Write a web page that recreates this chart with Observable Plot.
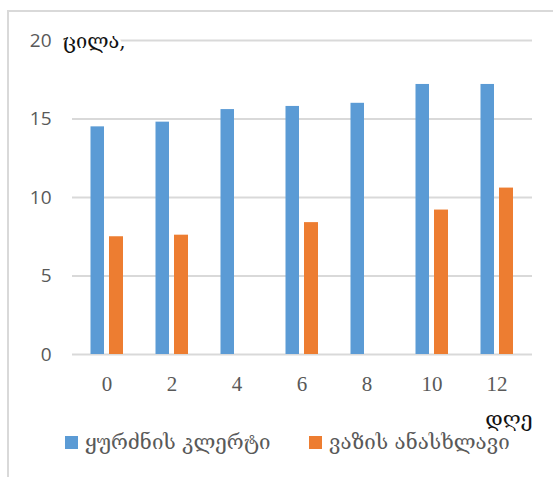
<!DOCTYPE html>
<html><head><meta charset="utf-8">
<script src="https://cdn.jsdelivr.net/npm/d3@7"></script>
<script src="https://cdn.jsdelivr.net/npm/@observablehq/plot@0.6"></script>
<style>
body{margin:0;background:#fff;}
#wrap{position:relative;width:553px;height:477px;overflow:hidden;background:#fff;}
#frame{position:absolute;left:7px;top:10px;width:560px;height:480px;border-left:2px solid #d9d9d9;border-top:2px solid #d9d9d9;pointer-events:none;}
#chart{position:absolute;left:0;top:0;}
.item{position:absolute;top:433px;height:18px;display:flex;align-items:center;font-family:"DejaVu Serif","DejaVu Sans",serif;font-size:20.5px;color:#595959;white-space:nowrap;}
.sw{width:13px;height:13px;margin-right:7px;flex:none;}
</style></head>
<body>
<div id="wrap">
<div id="chart"></div>
<div id="frame"></div>
<div id="legend"></div>
</div>
<script>
const days = ["0", "2", "4", "6", "8", "10", "12"];
const stalks = [14.5, 14.8, 15.6, 15.8, 16.0, 17.2, 17.2];
const prunings = [7.5, 7.6, null, 8.4, null, 9.2, 10.6];
const seriesNames = ["ყურძნის კლერტი", "ვაზის ანასხლავი"];
const seriesColors = ["#5B9BD5", "#ED7D31"];
const yTicks = [0, 5, 10, 15, 20];
const yLabel = "ცილა,";
const xLabel = "დღე";

const rowsA = days.map((d, i) => ({day: d, value: stalks[i]}));
const rowsB = days.map((d, i) => ({day: d, value: prunings[i]})).filter(r => r.value != null);

const chart = Plot.plot({
  width: 553,
  height: 440,
  marginLeft: 72,
  marginRight: 21,
  marginTop: 40,
  marginBottom: 86,
  style: {background: "transparent"},
  x: {domain: days, paddingInner: 0.49, paddingOuter: 0.25, label: null, tickSize: 0, tickPadding: 20},
  y: {domain: [0, 20], ticks: yTicks, label: null, tickSize: 0, tickPadding: 20},
  marks: [
    Plot.ruleY(yTicks, {stroke: "#d9d9d9", strokeOpacity: 1, strokeWidth: 2}),
    Plot.barY(rowsA, {x: "day", y: "value", fill: seriesColors[0], insetRight: 19, insetLeft: 0.5}),
    Plot.barY(rowsB, {x: "day", y: "value", fill: seriesColors[1], insetLeft: 19, insetRight: 0}),
    Plot.axisX({tickSize: 0, tickPadding: 22, fontSize: 21, fontFamily: "'Liberation Serif', 'DejaVu Serif', serif", fill: "#595959"}),
    Plot.axisY({ticks: yTicks, tickSize: 0, tickPadding: 21, fontSize: 19, fontFamily: "'Open Sans', 'Liberation Sans', sans-serif", fill: "#595959"}),
    Plot.text([yLabel], {frameAnchor: "top-left", dx: -10, dy: 1, lineAnchor: "middle", text: d => d, textAnchor: "start", fontSize: 20, fontFamily: "'DejaVu Serif', 'DejaVu Sans', serif", fill: "#111", stroke: "white", strokeWidth: 6}),
    Plot.text([xLabel], {frameAnchor: "bottom-right", dy: 65, lineAnchor: "middle", text: d => d, textAnchor: "end", fontSize: 21, fontFamily: "'DejaVu Serif', 'DejaVu Sans', serif", fill: "#111"})
  ]
});
document.getElementById("chart").appendChild(chart);

const legend = document.getElementById("legend");
const lefts = [65, 309];
seriesNames.forEach((name, i) => {
  const it = document.createElement("div");
  it.className = "item";
  it.style.left = lefts[i] + "px";
  const sw = document.createElement("span");
  sw.className = "sw";
  sw.style.background = seriesColors[i];
  const tx = document.createElement("span");
  tx.textContent = name;
  it.appendChild(sw); it.appendChild(tx);
  legend.appendChild(it);
});
</script>
</body></html>
